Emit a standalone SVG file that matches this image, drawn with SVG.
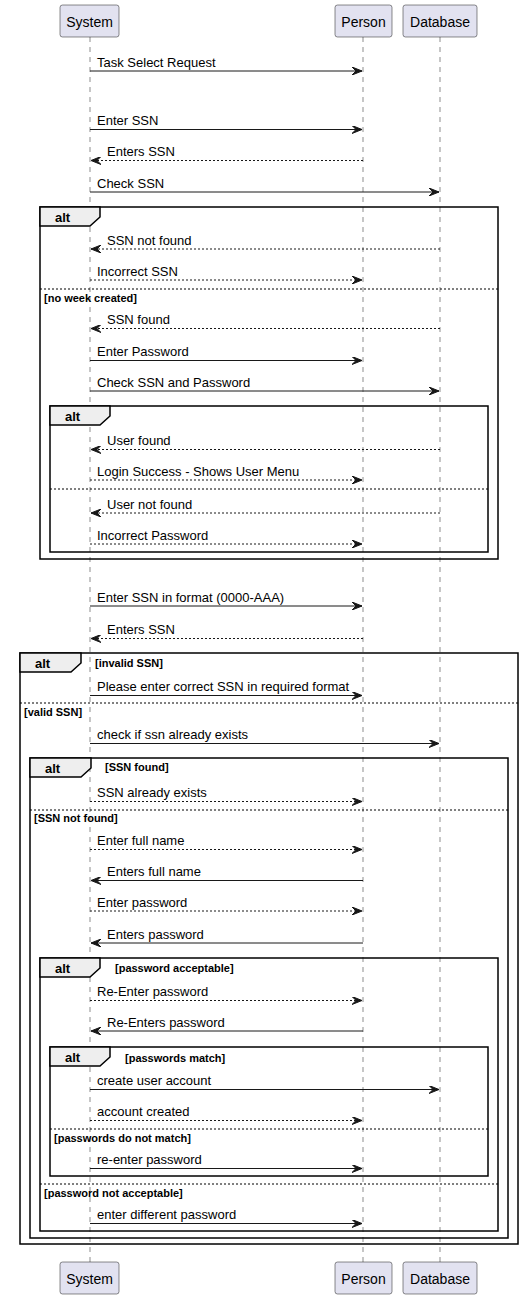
<svg xmlns="http://www.w3.org/2000/svg" width="526" height="1299" viewBox="0 0 526 1299">
<style>
.bg{fill:#FFFFFF}
.life{stroke:#181818;stroke-width:0.5;stroke-dasharray:5,5;fill:none}
.pbox{fill:#E2E2F0;stroke:#181818;stroke-width:0.5}
.ptxt{font-family:"Liberation Sans",Arial,sans-serif;font-size:14px;fill:#000000;text-anchor:middle}
.msg{stroke:#181818;stroke-width:1;fill:none;marker-end:url(#ah)}
.dash{stroke-dasharray:2,2}
.mtxt{font-family:"Liberation Sans",Arial,sans-serif;font-size:13px;fill:#000000}
.frame{fill:none;stroke:#000000;stroke-width:1.5}
.tab{fill:#EEEEEE;stroke:#000000;stroke-width:1.5}
.alt{font-family:"Liberation Sans",Arial,sans-serif;font-size:13px;font-weight:bold;fill:#000000}
.guard{font-family:"Liberation Sans",Arial,sans-serif;font-size:11px;font-weight:bold;fill:#000000}
.sep{stroke:#000000;stroke-width:1;stroke-dasharray:2,2;fill:none}
</style>
<defs>
<marker id="ah" viewBox="0 0 10 8" refX="10" refY="4" markerWidth="10" markerHeight="8" markerUnits="userSpaceOnUse" orient="auto">
<path d="M0,0 L10,4 L0,8 L4,4 Z" fill="#181818" stroke="#181818" stroke-width="1"/>
</marker>
</defs>
<rect class="bg" x="0" y="0" width="526" height="1299"/>

<g id="lifelines">
<line class="life" x1="90" y1="37" x2="90" y2="1262"/>
<line class="life" x1="363" y1="37" x2="363" y2="1262"/>
<line class="life" x1="440" y1="37" x2="440" y2="1262"/>
</g>

<g id="frames">
<g id="alt1">
<rect class="frame" x="40" y="207" width="458" height="352"/>
<polygon class="tab" points="40,207 100,207 100,217 90,226 40,226"/>
<text class="alt" x="55" y="221.5">alt</text>
<line class="sep" x1="40" y1="289" x2="498" y2="289"/>
<text class="guard" x="44" y="301.5">[no week created]</text>
</g>
<g id="alt1b">
<rect class="frame" x="50" y="406" width="438" height="146"/>
<polygon class="tab" points="50,406 110,406 110,416 100,425 50,425"/>
<text class="alt" x="65" y="420.5">alt</text>
<line class="sep" x1="50" y1="489" x2="488" y2="489"/>
</g>
<g id="alt2">
<rect class="frame" x="20" y="653" width="498" height="591"/>
<polygon class="tab" points="20,653 81,653 81,663 71,672 20,672"/>
<text class="alt" x="35" y="667.5">alt</text>
<text class="guard" x="95" y="666.5">[invalid SSN]</text>
<line class="sep" x1="20" y1="703" x2="518" y2="703"/>
<text class="guard" x="24" y="716">[valid SSN]</text>
</g>
<g id="alt3">
<rect class="frame" x="30" y="758" width="478" height="480"/>
<polygon class="tab" points="30,758 91,758 91,768 81,777 30,777"/>
<text class="alt" x="45" y="772.5">alt</text>
<text class="guard" x="105" y="771">[SSN found]</text>
<line class="sep" x1="30" y1="810" x2="508" y2="810"/>
<text class="guard" x="34" y="822">[SSN not found]</text>
</g>
<g id="alt4">
<rect class="frame" x="40" y="958" width="458" height="273"/>
<polygon class="tab" points="40,958 100,958 100,968 90,977 40,977"/>
<text class="alt" x="55" y="972.5">alt</text>
<text class="guard" x="115" y="972">[password acceptable]</text>
<line class="sep" x1="40" y1="1184" x2="498" y2="1184"/>
<text class="guard" x="44" y="1197">[password not acceptable]</text>
</g>
<g id="alt5">
<rect class="frame" x="50" y="1047" width="438" height="129"/>
<polygon class="tab" points="50,1047 110,1047 110,1057 100,1066 50,1066"/>
<text class="alt" x="65" y="1061.5">alt</text>
<text class="guard" x="125" y="1062">[passwords match]</text>
<line class="sep" x1="50" y1="1129" x2="488" y2="1129"/>
<text class="guard" x="54" y="1142">[passwords do not match]</text>
</g>
</g>

<g id="connectors">
<line class="msg" x1="90" y1="71" x2="362" y2="71"/><text class="mtxt" x="97" y="66.5">Task Select Request</text>
<line class="msg" x1="90" y1="129.5" x2="362" y2="129.5"/><text class="mtxt" x="97" y="125">Enter SSN</text>
<line class="msg dash" x1="363" y1="160.5" x2="91" y2="160.5"/><text class="mtxt" x="107" y="156">Enters SSN</text>
<line class="msg" x1="90" y1="192" x2="439" y2="192"/><text class="mtxt" x="97" y="187.5">Check SSN</text>
<line class="msg dash" x1="440" y1="249" x2="91" y2="249"/><text class="mtxt" x="107" y="244.5">SSN not found</text>
<line class="msg dash" x1="90" y1="280" x2="362" y2="280"/><text class="mtxt" x="97" y="275.5">Incorrect SSN</text>
<line class="msg dash" x1="440" y1="328.5" x2="91" y2="328.5"/><text class="mtxt" x="107" y="324">SSN found</text>
<line class="msg" x1="90" y1="360.5" x2="362" y2="360.5"/><text class="mtxt" x="97" y="356">Enter Password</text>
<line class="msg" x1="90" y1="391" x2="439" y2="391"/><text class="mtxt" x="97" y="386.5">Check SSN and Password</text>
<line class="msg dash" x1="440" y1="449.5" x2="91" y2="449.5"/><text class="mtxt" x="107" y="445">User found</text>
<line class="msg dash" x1="90" y1="480" x2="362" y2="480"/><text class="mtxt" x="97" y="475.5">Login Success - Shows User Menu</text>
<line class="msg dash" x1="440" y1="513" x2="91" y2="513"/><text class="mtxt" x="107" y="508.5">User not found</text>
<line class="msg dash" x1="90" y1="544" x2="362" y2="544"/><text class="mtxt" x="97" y="539.5">Incorrect Password</text>
<line class="msg" x1="90" y1="606" x2="362" y2="606"/><text class="mtxt" x="97" y="601.5">Enter SSN in format (0000-AAA)</text>
<line class="msg dash" x1="363" y1="638.5" x2="91" y2="638.5"/><text class="mtxt" x="107" y="634">Enters SSN</text>
<line class="msg" x1="90" y1="695.5" x2="362" y2="695.5"/><text class="mtxt" x="97" y="691">Please enter correct SSN in required format</text>
<line class="msg" x1="90" y1="743.5" x2="439" y2="743.5"/><text class="mtxt" x="97" y="739">check if ssn already exists</text>
<line class="msg dash" x1="90" y1="801.5" x2="362" y2="801.5"/><text class="mtxt" x="97" y="797">SSN already exists</text>
<line class="msg dash" x1="90" y1="849.5" x2="362" y2="849.5"/><text class="mtxt" x="97" y="845">Enter full name</text>
<line class="msg" x1="363" y1="880.5" x2="91" y2="880.5"/><text class="mtxt" x="107" y="876">Enters full name</text>
<line class="msg dash" x1="90" y1="911" x2="362" y2="911"/><text class="mtxt" x="97" y="906.5">Enter password</text>
<line class="msg" x1="363" y1="943" x2="91" y2="943"/><text class="mtxt" x="107" y="938.5">Enters password</text>
<line class="msg dash" x1="90" y1="1000.5" x2="362" y2="1000.5"/><text class="mtxt" x="97" y="996">Re-Enter password</text>
<line class="msg" x1="363" y1="1031" x2="91" y2="1031"/><text class="mtxt" x="107" y="1026.5">Re-Enters password</text>
<line class="msg" x1="90" y1="1089.5" x2="439" y2="1089.5"/><text class="mtxt" x="97" y="1085">create user account</text>
<line class="msg dash" x1="90" y1="1120.5" x2="362" y2="1120.5"/><text class="mtxt" x="97" y="1116">account created</text>
<line class="msg" x1="90" y1="1168.5" x2="362" y2="1168.5"/><text class="mtxt" x="97" y="1164">re-enter password</text>
<line class="msg" x1="90" y1="1223.5" x2="362" y2="1223.5"/><text class="mtxt" x="97" y="1219">enter different password</text>
</g>

<g id="system">
<rect class="pbox" x="60" y="5" width="59" height="32" rx="2.5"/>
<text class="ptxt" x="89.5" y="26.5">System</text>
<rect class="pbox" x="60" y="1262" width="59" height="32" rx="2.5"/>
<text class="ptxt" x="89.5" y="1283.5">System</text>
</g>
<g id="person">
<rect class="pbox" x="335" y="5" width="57" height="32" rx="2.5"/>
<text class="ptxt" x="363.5" y="26.5">Person</text>
<rect class="pbox" x="335" y="1262" width="57" height="32" rx="2.5"/>
<text class="ptxt" x="363.5" y="1283.5">Person</text>
</g>
<g id="database">
<rect class="pbox" x="403" y="5" width="74" height="32" rx="2.5"/>
<text class="ptxt" x="440" y="26.5">Database</text>
<rect class="pbox" x="403" y="1262" width="74" height="32" rx="2.5"/>
<text class="ptxt" x="440" y="1283.5">Database</text>
</g>
</svg>
